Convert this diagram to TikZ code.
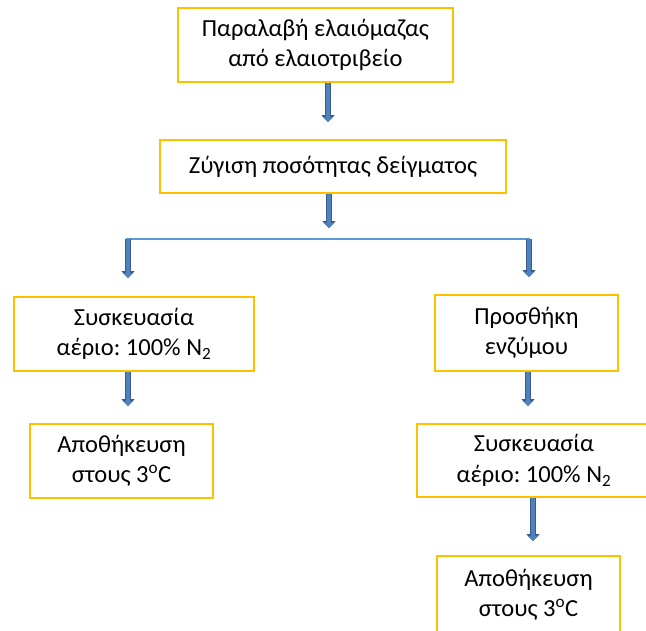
\documentclass[tikz,border=0pt]{standalone}
\usepackage{fontspec}
\setmainfont{Carlito}
\usetikzlibrary{arrows.meta}
\definecolor{boxgold}{HTML}{FFC000}
\definecolor{arrfill}{HTML}{4F81BD}
\definecolor{arredge}{HTML}{385D8A}
\definecolor{barline}{HTML}{5B9BD5}
\frenchspacing
\tikzset{
  pbox/.style={draw=boxgold,line width=1.6pt,align=center,inner sep=0pt,
    font=\fontsize{24.5}{30.5}\selectfont},                  % process box
  barrow/.style={preaction={draw=arredge,line width=6pt,-{Triangle[width=13pt,length=7pt]}},
    draw=arrfill,line width=4pt,shorten >=1pt,-{Triangle[width=10pt,length=5pt]}}, % block arrow
  split/.style={draw=barline,line width=2pt},                % branch line
}

\begin{document}
\begin{tikzpicture}[x=1pt,y=-1pt]
  \useasboundingbox (0,0) rectangle (646,630);
  \clip (0,0) rectangle (646,630);
  % boxes
  \node[pbox,minimum width=275pt,minimum height=74pt] (recv) at (315.5,45) {Παραλαβή ελαιόμαζας\\από ελαιοτριβείο};
  \node[pbox,minimum width=346pt,minimum height=53pt] (weigh) at (333,166.5) {Ζύγιση ποσότητας δείγματος};
  \node[pbox,minimum width=240pt,minimum height=74pt] (packL) at (134,334) {Συσκευασία\\αέριο: 100\% N\textsubscript{2}};
  \node[pbox,minimum width=183pt,minimum height=74pt] (storeL) at (121.5,461) {Αποθήκευση\\στους 3\textsuperscript{o}C};
  \node[pbox,minimum width=183pt,minimum height=76pt] (enzyme) at (526.5,333) {Προσθήκη\\ενζύμου};
  \node[pbox,minimum width=234pt,minimum height=73pt] (packR) at (534,460.5) {Συσκευασία\\αέριο: 100\% N\textsubscript{2}};
  \node[pbox,minimum width=183pt,minimum height=78pt] (storeR) at (528.5,595) {Αποθήκευση\\στους 3\textsuperscript{o}C};
  % arrow ends
  \coordinate (t1) at (328,123);
  \coordinate (t2) at (329,229);
  \coordinate (hl) at (126,239);
  \coordinate (hr) at (530,239);
  \coordinate (t3) at (128,279);
  \coordinate (t4) at (529,278);
  \coordinate (t5) at (128,407);
  \coordinate (t6) at (528,407);
  \coordinate (t7) at (533,542);
  % connectors
  \draw[barrow] (recv.south -| t1) -- (t1);
  \draw[barrow] (weigh.south -| t2) -- (t2);
  \draw[split] (hl) -- (hr);
  \draw[barrow] (hl -| t3) -- (t3);
  \draw[barrow] (hr -| t4) -- (t4);
  \draw[barrow] (packL.south -| t5) -- (t5);
  \draw[barrow] (enzyme.south -| t6) -- (t6);
  \draw[barrow] (packR.south -| t7) -- (t7);
\end{tikzpicture}
\end{document}
